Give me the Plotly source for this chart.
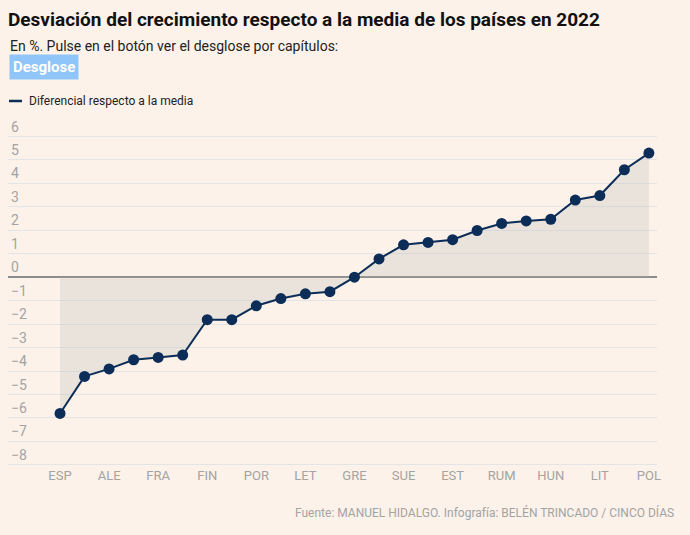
import plotly.graph_objects as go

# paises ordenados de menor a mayor desviacion
paises = ["ESP", "ITA", "ALE", "AUT", "FRA", "BEL", "FIN", "HOL", "POR", "IRL",
          "LET", "ESL", "GRE", "CHE", "SUE", "DIN", "EST", "BUL", "RUM", "CRO",
          "HUN", "ESQ", "LIT", "MAL", "POL"]
diferencial = [-5.81, -4.23, -3.91, -3.52, -3.42, -3.32, -1.81, -1.81, -1.22, -0.91,
               -0.71, -0.62, 0.0, 0.78, 1.38, 1.48, 1.60, 1.99, 2.29, 2.40,
               2.47, 3.29, 3.48, 4.58, 5.29]
etiquetas_x = paises[::2]
ticks_y = list(range(-8, 7))

fondo = "#fdf2e9"
azul = "#0b2d57"
gris = "#a3a3a3"
fuente = "Roboto"

# area de trazado en pixeles: y=6 en 136, y=-8 en 465 (el tope deja sitio a la etiqueta "6")
top, bottom = 113, 466
alto = bottom - top


def py(pix):
    return (bottom - pix) / alto


fig = go.Figure()

fig.add_trace(go.Scatter(
    x=paises, y=diferencial,
    mode="lines+markers",
    line=dict(color=azul, width=2),
    marker=dict(color=azul, size=11),
    fill="tozeroy",
    fillcolor="rgba(190,190,190,0.29)",
    name="Diferencial respecto a la media",
    showlegend=False,
))

fig.update_xaxes(
    type="category",
    categoryorder="array", categoryarray=paises,
    tickmode="array", tickvals=etiquetas_x,
    range=[-2.12, 24.33],
    showgrid=False, zeroline=False, showline=False,
    ticks="", tickfont=dict(family=fuente, size=13, color=gris),
)
fig.update_yaxes(
    range=[-8.05, 7.0],
    tickmode="array", tickvals=ticks_y,
    ticklabelposition="inside top",
    gridcolor="#e3e4e6", gridwidth=1,
    zeroline=True, zerolinecolor="#8c8c8c", zerolinewidth=1.5,
    showline=False, ticks="",
    tickfont=dict(family=fuente, size=14, color=gris),
)

fig.update_layout(
    width=690, height=535,
    paper_bgcolor=fondo, plot_bgcolor=fondo,
    margin=dict(l=8, r=33, t=top, b=535 - bottom),
    title=dict(
        text="<b>Desviación del crecimiento respecto a la media de los países en 2022</b>",
        x=8 / 690, xanchor="left", y=1 - 19 / 535, yanchor="middle",
        font=dict(family=fuente, size=19, color="#111111"),
    ),
    annotations=[
        dict(text="En %. Pulse en el botón ver el desglose por capítulos:",
             xref="paper", yref="paper", x=0, y=py(46),
             xanchor="left", yanchor="middle", showarrow=False,
             font=dict(family=fuente, size=14, color="#222222")),
        dict(text="<b>Desglose</b>",
             xref="paper", yref="paper", x=0.0015, y=py(67),
             xanchor="left", yanchor="middle", showarrow=False,
             bgcolor="#8fc5f8", borderpad=3,
             font=dict(family=fuente, size=15, color="white")),
        dict(text="Diferencial respecto a la media",
             xref="paper", yref="paper", x=19 / 649, y=py(101),
             xanchor="left", yanchor="middle", showarrow=False,
             font=dict(family=fuente, size=12, color="#222222")),
        dict(text="Fuente: MANUEL HIDALGO. Infografía: BELÉN TRINCADO / CINCO DÍAS",
             xref="paper", yref="paper", x=(676 - 8) / 649, y=py(512),
             xanchor="right", yanchor="middle", showarrow=False,
             font=dict(family=fuente, size=12, color=gris)),
    ],
    shapes=[
        dict(type="line", xref="paper", yref="paper",
             x0=1 / 649, x1=14 / 649, y0=py(101), y1=py(101),
             line=dict(color=azul, width=2.5)),
    ],
)

fig.write_html("out.html", config={"displayModeBar": False},
               post_script="document.body.style.margin='0';")
